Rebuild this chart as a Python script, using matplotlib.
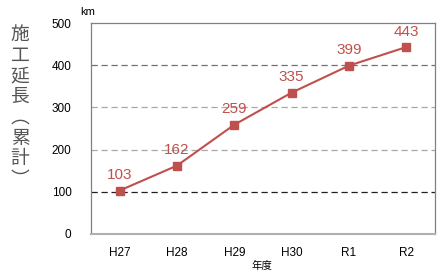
import matplotlib
matplotlib.use("Agg")
import matplotlib.pyplot as plt

plt.rcParams['font.family'] = ['Liberation Sans', 'Noto Sans CJK JP', 'DejaVu Sans']

years = ["H27", "H28", "H29", "H30", "R1", "R2"]
lengths = [103, 162, 259, 335, 399, 443]
yticks = [0, 100, 200, 300, 400, 500]
ylabel_text = "施工延長︵累計︶"

red = "#c0504d"

fig = plt.figure(figsize=(4.44, 2.75), dpi=100)
ax = fig.add_axes([91/444, 1 - 234/275, 344/444, 211/275])

x = list(range(len(years)))
ax.plot(x, lengths, color=red, lw=1.5, marker="s", markersize=6, zorder=3)
for xi, v in zip(x, lengths):
    ax.annotate(str(v), (xi, v), xytext=(0, 6), textcoords="offset points",
                ha="center", va="bottom", color=red, fontsize=11)

ax.set_xlim(-0.5, 5.5)
ax.set_ylim(0, 500)
ax.set_xticks(x)
ax.set_xticklabels(years, fontsize=8.5)
ax.set_yticks(yticks)
ax.set_yticklabels([str(t) for t in yticks], fontsize=8.5)
ax.tick_params(length=0, pad=9)
ax.tick_params(axis="y", pad=14)

# gridlines
ax.axhline(400, color="#707070", lw=0.9, ls=(0, (5, 3)), zorder=1)
ax.axhline(300, color="#a8a8a8", lw=0.9, ls=(0, (5, 3)), zorder=1)
ax.axhline(200, color="#a8a8a8", lw=0.9, ls=(0, (5, 3)), zorder=1)
ax.axhline(100, color="#202020", lw=0.9, ls=(0, (5, 3)), zorder=1)

for s in ["left", "top", "right"]:
    ax.spines[s].set_color("#808080")
    ax.spines[s].set_linewidth(0.9)
ax.spines["bottom"].set_color("#b0b0b0")
ax.spines["bottom"].set_linewidth(1.5)

fig.text(80/444, 1 - 12/275, "km", fontsize=8, ha="left", va="center")
fig.text(262/444, 1 - 266/275, "年度", fontsize=7.5, ha="center", va="center")
fig.text(20/444, 1 - 107/275, "\n".join(ylabel_text), fontsize=13.5, color="#555555",
         ha="center", va="center", linespacing=0.98, family=['Noto Sans CJK JP', 'DejaVu Sans'])

fig.savefig("out.png", dpi=100)
